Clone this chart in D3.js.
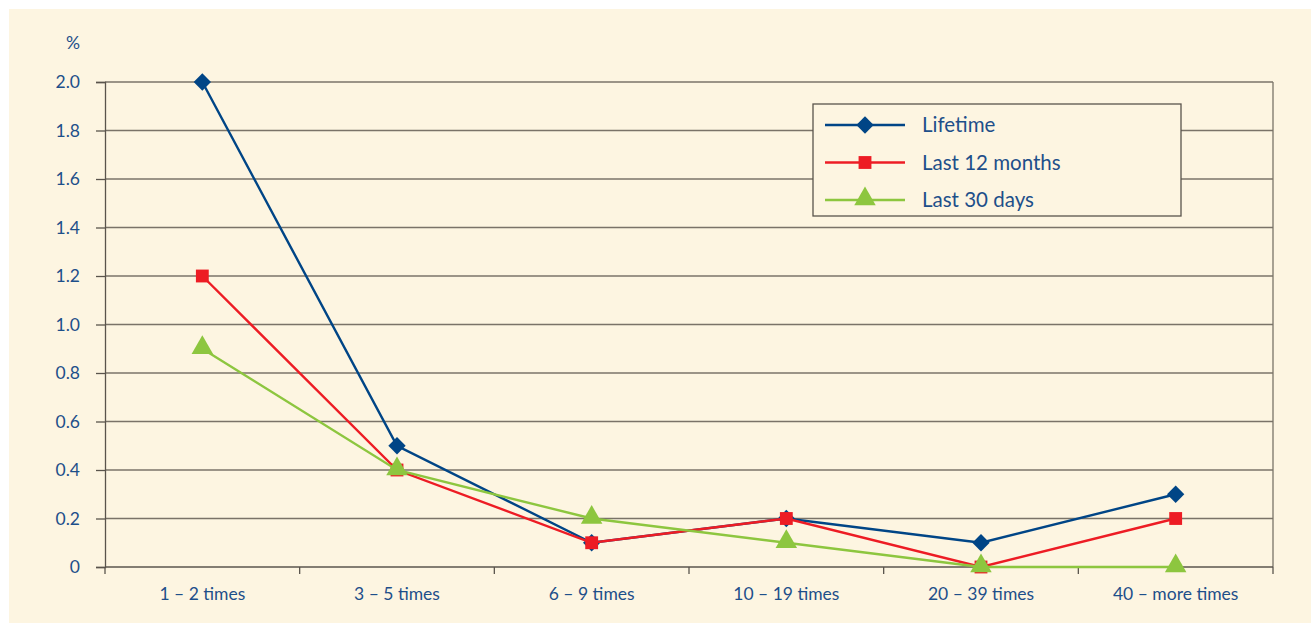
<!DOCTYPE html>
<html>
<head>
<meta charset="utf-8">
<script src="https://cdn.jsdelivr.net/npm/d3@7"></script>
<style>
  html, body { margin: 0; padding: 0; background: #ffffff; }
  svg { display: block; }
  text { font-family: "Lato", "Open Sans", sans-serif; fill: #1d4f8a; }
</style>
</head>
<body>
<svg id="chart" width="1311" height="623"></svg>
<script>
// Frequency of use categories
const categories = ["1 – 2 times", "3 – 5 times", "6 – 9 times", "10 – 19 times", "20 – 39 times", "40 – more times"];
// Prevalence (%) per period
const lifetime = [2.0, 0.5, 0.1, 0.2, 0.1, 0.3];
const last12Months = [1.2, 0.4, 0.1, 0.2, 0.0, 0.2];
const last30Days = [0.9, 0.4, 0.2, 0.1, 0.0, 0.0];
const yTicks = [0, 0.2, 0.4, 0.6, 0.8, 1.0, 1.2, 1.4, 1.6, 1.8, 2.0];
const seriesNames = ["Lifetime", "Last 12 months", "Last 30 days"];

const series = [
  { name: seriesNames[0], values: lifetime, color: "#004586", symbol: "diamond" },
  { name: seriesNames[1], values: last12Months, color: "#ed1c24", symbol: "square" },
  { name: seriesNames[2], values: last30Days, color: "#8dc63f", symbol: "triangle" }
];

const svg = d3.select("#chart");
const W = 1311, H = 623;
const m = { left: 105, right: 1273, top: 82, bottom: 567 };

svg.append("rect").attr("x", 9).attr("y", 9).attr("width", W - 9).attr("height", H - 9)
  .attr("fill", "#fdf5e1");

const x = d3.scaleBand().domain(categories).range([m.left, m.right]).padding(0);
const y = d3.scaleLinear().domain([0, 2.0]).range([m.bottom, m.top]);

// Horizontal gridlines
svg.append("g").selectAll("line").data(yTicks.filter(d => d > 0)).join("line")
  .attr("x1", m.left).attr("x2", m.right)
  .attr("y1", d => y(d)).attr("y2", d => y(d))
  .attr("stroke", "#7a7368").attr("stroke-width", 1.3);

// Y axis
const yAxis = d3.axisLeft(y).tickValues(yTicks)
  .tickFormat(d => d === 0 ? "0" : d3.format(".1f")(d))
  .tickSize(9).tickPadding(16);
const gy = svg.append("g").attr("transform", `translate(${m.left},0)`).call(yAxis);
gy.select(".domain").attr("stroke", "#5a544c").attr("stroke-width", 1.3);
gy.selectAll(".tick line").attr("stroke", "#5a544c").attr("stroke-width", 1.3);
gy.selectAll(".tick text").style("font-size", "17.5px").attr("fill", "#1d4f8a");

// Right border
svg.append("line").attr("x1", m.right).attr("x2", m.right)
  .attr("y1", m.top).attr("y2", m.bottom)
  .attr("stroke", "#7a7368").attr("stroke-width", 1.3);

// X axis with ticks at category boundaries
svg.append("line").attr("x1", m.left).attr("x2", m.right)
  .attr("y1", m.bottom).attr("y2", m.bottom)
  .attr("stroke", "#5a544c").attr("stroke-width", 1.3);
const boundaries = categories.map(c => x(c)).concat([x(categories[categories.length - 1]) + x.bandwidth()]);
svg.append("g").selectAll("line").data(boundaries).join("line")
  .attr("x1", d => d).attr("x2", d => d)
  .attr("y1", m.bottom).attr("y2", m.bottom + 7)
  .attr("stroke", "#5a544c").attr("stroke-width", 1.3);
svg.append("g").selectAll("text").data(categories).join("text")
  .attr("x", d => x(d) + x.bandwidth() / 2).attr("y", 600)
  .attr("text-anchor", "middle").style("font-size", "17.5px")
  .text(d => d);

// Unit label
svg.append("text").attr("x", 80).attr("y", 49).attr("text-anchor", "end")
  .style("font-size", "17.5px").text("%");

const cx = c => x(c) + x.bandwidth() / 2;

function drawMarker(g, s, px, py) {
  if (s.symbol === "diamond") {
    g.append("path").attr("d", d3.symbol().type(d3.symbolSquare).size(150)())
      .attr("transform", `translate(${px},${py}) rotate(45)`).attr("fill", s.color);
  } else if (s.symbol === "square") {
    g.append("path").attr("d", d3.symbol().type(d3.symbolSquare).size(165)())
      .attr("transform", `translate(${px},${py})`).attr("fill", s.color);
  } else {
    g.append("path").attr("d", d3.symbol().type(d3.symbolTriangle).size(200)())
      .attr("transform", `translate(${px},${py - 1})`).attr("fill", s.color);
  }
}

const line = d3.line().x((d, i) => cx(categories[i])).y(d => y(d));
series.forEach(s => {
  const g = svg.append("g");
  g.append("path").datum(s.values).attr("d", line)
    .attr("fill", "none").attr("stroke", s.color).attr("stroke-width", 2.4);
  s.values.forEach((v, i) => drawMarker(g, s, cx(categories[i]), y(v)));
});

// Legend
const lg = svg.append("g");
lg.append("rect").attr("x", 813).attr("y", 104).attr("width", 368).attr("height", 112)
  .attr("fill", "#fdf5e1").attr("stroke", "#5a544c").attr("stroke-width", 1.3);
series.forEach((s, i) => {
  const ly = 125 + i * 37.5;
  lg.append("line").attr("x1", 825).attr("x2", 905).attr("y1", ly).attr("y2", ly)
    .attr("stroke", s.color).attr("stroke-width", 2.4);
  drawMarker(lg, s, 865, ly);
  lg.append("text").attr("x", 922).attr("y", ly + 7).style("font-size", "20.5px").text(s.name);
});
</script>
</body>
</html>
